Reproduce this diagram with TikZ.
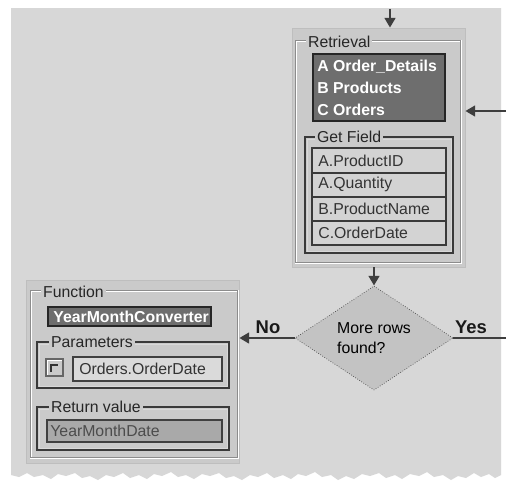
\documentclass[tikz,border=0pt]{standalone}
\usepackage{fontspec}
\setmainfont{Liberation Sans}
\usetikzlibrary{arrows.meta,shapes.geometric,fit}
\definecolor{bggrey}{HTML}{D7D7D7}
\definecolor{panelgrey}{HTML}{CACACA}
\definecolor{panelrim}{HTML}{BEBEBE}
\definecolor{darkbox}{HTML}{6E6E6E}
\definecolor{listgrey}{HTML}{D3D3D3}
\definecolor{fieldlight}{HTML}{DADADA}
\definecolor{returngrey}{HTML}{A9A9A9}
\definecolor{diamondgrey}{HTML}{C3C3C3}
\definecolor{linegrey}{HTML}{3E3E3E}
\definecolor{framegrey}{HTML}{8C8C8C}
\definecolor{framedark}{HTML}{3A3A3A}
\begin{document}
\begin{tikzpicture}
    [
  x=0.02cm, y=-0.02cm,
  every node/.style={font=\fontsize{9}{11}\selectfont},
  panel/.style={
    draw=panelrim,
    fill=panelgrey,
    inner sep=0pt
  },
  grouptitle/.style={
    anchor=west,
    fill=panelgrey,
    inner sep=1pt,
    text=black!85
  },
  boxtext/.style={
    anchor=west,
    text=white,
    align=left,
    inner sep=0pt,
    font=\bfseries\fontsize{9}{12.5}\selectfont
  },
  fieldtext/.style={
    anchor=west,
    inner sep=0pt,
    text=black!80
  },
  flow/.style={
    draw=linegrey,
    line width=1.6pt,
    -{Triangle[length=5.5pt,width=6pt]}
  },
  decision/.style={
    diamond,
    draw=black!70,
    densely dotted,
    fill=diamondgrey,
    minimum width=3.16cm,
    minimum height=2cm,
    inner sep=0pt,
    align=left
  },
  answer/.style={
    inner sep=0pt,
    text=black!90,
    font=\bfseries\fontsize{10.5}{12}\selectfont
  }
  ]
  \useasboundingbox (0,0) rectangle (506,487);
  % torn sheet
  \fill[white] (0,0) rectangle (506,487);
  \fill[bggrey] (11,8) -- (501,8) -- (501,475)
    -- (495,478) -- (489,474) -- (481,477) -- (474,473) -- (466,478)
    -- (458,476) -- (451,480) -- (443,475) -- (434,477) -- (427,472)
    -- (419,476) -- (410,474) -- (402,479) -- (395,475) -- (386,478)
    -- (379,473) -- (370,476) -- (362,474) -- (354,479) -- (346,476)
    -- (338,480) -- (331,475) -- (322,477) -- (315,472) -- (306,476)
    -- (298,474) -- (291,479) -- (283,475) -- (274,478) -- (267,473)
    -- (258,477) -- (250,475) -- (242,480) -- (234,476) -- (226,478)
    -- (219,473) -- (210,476) -- (202,474) -- (194,479) -- (186,475)
    -- (178,477) -- (171,472) -- (162,476) -- (154,474) -- (147,479)
    -- (139,475) -- (130,478) -- (123,473) -- (114,477) -- (106,475)
    -- (98,480) -- (90,476) -- (82,478) -- (75,473) -- (66,476)
    -- (58,474) -- (51,479) -- (43,475) -- (34,477) -- (27,473)
    -- (19,477) -- (11,475) -- cycle;

  % retrieval panel
  \node (retrieval) [panel, fit={(292,28) (465,267)}] {};
  \draw[white, line width=0.8pt] (296,41) rectangle (461,263);
  \draw[framegrey, line width=0.5pt] (295,40) rectangle (460,262);
  \node (rtitle) at (306,42) [grouptitle] {Retrieval};
  \draw[fill=darkbox, draw=black!85, line width=0.7pt] (313,54) rectangle (445,121);
  \node (tables) at (317,88) [boxtext] {A Order\_Details\\B Products\\C Orders};
  \draw[framedark, line width=0.9pt] (305,137) rectangle (453,253);
  \draw[white!85!black, line width=0.5pt] (307,139) rectangle (451,251);
  \node (ftitle) at (315,137) [grouptitle] {Get Field};
  \draw[fill=listgrey, draw=framedark, line width=0.8pt] (312,148) rectangle (446,245);
  \foreach \y in {173,197,221}
    \draw[framedark, line width=0.8pt] (312,\y) -- (446,\y);
  \foreach \t [count=\i] in {A.ProductID,A.Quantity,B.ProductName,C.OrderDate}
    \node (field\i) at (318,136.5+24*\i) [fieldtext] {\t};

  % function panel
  \node (function) [panel, fit={(26,280) (239,463)}] {};
  \draw[white, line width=0.8pt] (31,291) rectangle (238,458);
  \draw[framegrey, line width=0.5pt] (30,290) rectangle (237,457);
  \node (fntitle) at (41,292) [grouptitle] {Function};
  \draw[fill=darkbox, draw=black!85, line width=0.7pt] (48,307) rectangle (211,326);
  \node (converter) at (53,316.5) [boxtext] {YearMonthConverter};
  \draw[framedark, line width=0.9pt] (37,342) rectangle (229,388);
  \draw[white!85!black, line width=0.5pt] (39,344) rectangle (227,386);
  \node (ptitle) at (49,342) [grouptitle] {Parameters};
  \draw[fill=panelgrey, draw=black!60, line width=0.6pt] (46,359) rectangle (63,376);
  \draw[white, line width=0.8pt] (47.5,374.5) -- (47.5,360.5) -- (61.5,360.5);
  \draw[black!80, line width=1.2pt] (51,372) -- (51,365) -- (58,365);
  \draw[fill=fieldlight, draw=black!75, line width=0.7pt] (73,357) rectangle (222,381);
  \node (param) at (79,369) [fieldtext] {Orders.OrderDate};
  \draw[framedark, line width=0.9pt] (37,407) rectangle (229,450);
  \draw[white!85!black, line width=0.5pt] (39,409) rectangle (227,448);
  \node (vtitle) at (49,407) [grouptitle] {Return value};
  \draw[fill=returngrey, draw=black!75, line width=0.7pt] (47,420) rectangle (222,442);
  \node (retval) at (50,431) [fieldtext, text=black!70] {YearMonthDate};

  % decision
  \node (found) at (374,338) [decision] {More rows\\found?};
  \node (no) at (268,327) [answer] {No};
  \node (yes) at (471,327) [answer] {Yes};

  % flow lines
  \coordinate (entry) at (390,9);
  \coordinate (loop) at (506,111);
  \coordinate (yesend) at (506,338);
  \draw[flow] (entry) -- (entry |- retrieval.north);
  \draw[flow] (loop) -- (loop -| retrieval.east);
  \draw[flow] (retrieval.south -| found.north) -- (found.north);
  \draw[flow] (found.west) -- (found.west -| function.east);
  \draw[draw=linegrey, line width=1.6pt] (found.east) -- (yesend);
\end{tikzpicture}
\end{document}
